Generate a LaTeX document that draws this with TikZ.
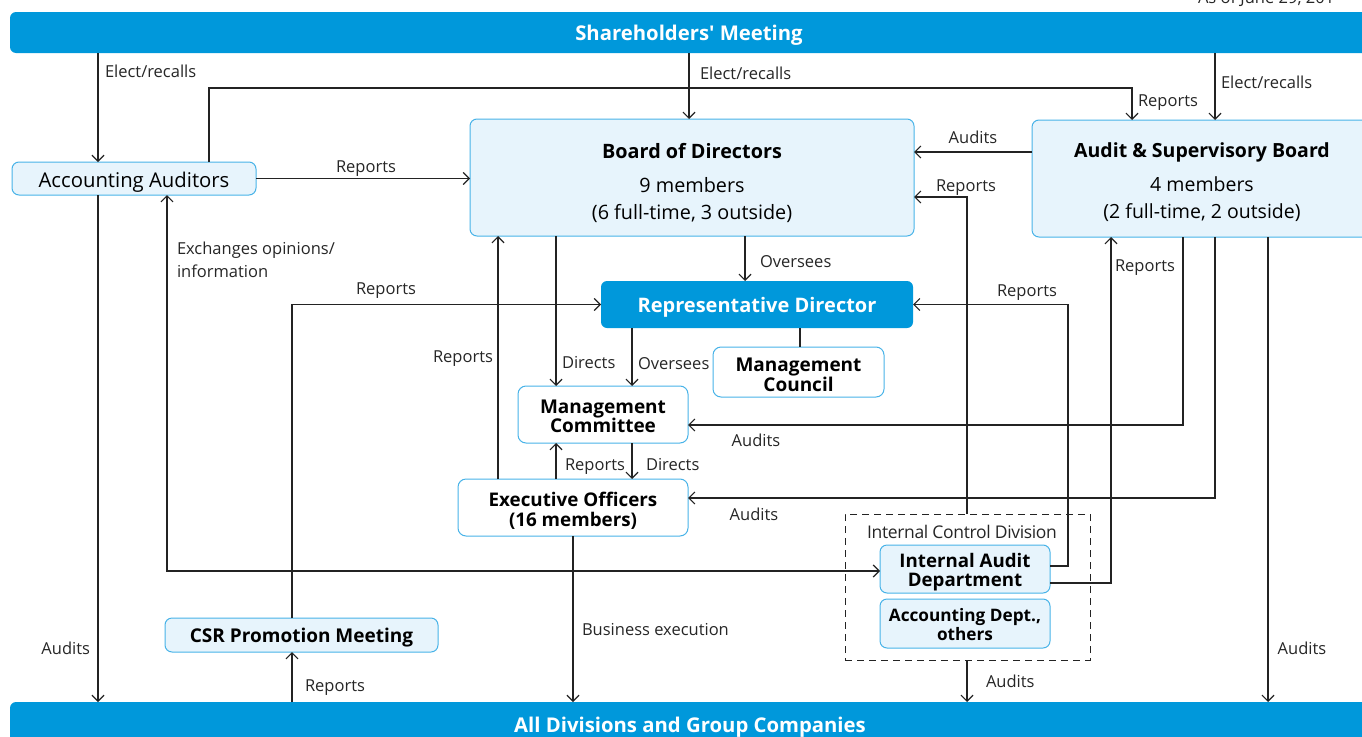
\documentclass[tikz,border=0pt]{standalone}
\usepackage{fontspec}
\setmainfont{Open Sans}
\usetikzlibrary{arrows.meta,calc}
\definecolor{mainblue}{RGB}{0,152,219}
\definecolor{lightfill}{RGB}{231,244,252}
\definecolor{boxline}{RGB}{72,179,232}
\definecolor{linecol}{RGB}{35,35,35}
\begin{document}
\begin{tikzpicture}[x=1pt,y=-1pt,
  every node/.style={inner sep=0pt, outer sep=0pt},
  bar/.style={fill=mainblue, rounded corners=6pt},
  bartext/.style={text=white, font=\fontsize{20.3}{22}\selectfont\bfseries},
  lbox/.style={draw=boxline, fill=lightfill, line width=1pt, rounded corners=7pt},
  wbox/.style={draw=boxline, fill=white, line width=1pt, rounded corners=8pt},
  btext/.style={align=center, font=\fontsize{19}{19.5}\selectfont\bfseries},
  lbl/.style={font=\fontsize{16.5}{22.5}\selectfont, text=black!85},
  conn/.style={draw=linecol, line width=1.2pt},
  arr/.style={conn, -{Straight Barb[length=6pt,width=12pt]}},
  darr/.style={conn, {Straight Barb[length=6pt,width=12pt]}-{Straight Barb[length=6pt,width=12pt]}},
]
\useasboundingbox (0,0) rectangle (1362,736);

% top note
\node[lbl, anchor=base west] (asof) at (1198,3) {As of June 29, 201};

% bars
\node[bar, minimum width=1362pt, minimum height=41pt] (sh) at (691,32.5) {};
\node[bartext] (sht) at ([yshift=-3pt]sh.center -| 689,0) {Shareholders\textquotesingle\ Meeting};
\node[bar, minimum width=1362pt, minimum height=44pt] (all) at (691,724) {};
\node[bartext] (allt) at ([yshift=-3pt]all.center -| 690,0) {All Divisions and Group Companies};

% boxes
\node[lbox, minimum width=244pt, minimum height=33pt] (aa) at (134,178.5) {};
\node[font=\fontsize{20.3}{22}\selectfont] (aat) at ([yshift=-4pt]aa.center) {Accounting Auditors};

\node[lbox, minimum width=444pt, minimum height=117pt] (bod) at (692,177.5) {};
\node[align=center, font=\fontsize{19.8}{27}\selectfont] (bodt) at ([yshift=-5pt]bod.center)
  {\textbf{Board of Directors}\\[7pt]9 members\\(6 full-time, 3 outside)};
\node[lbox, minimum width=340pt, minimum height=117pt] (asb) at (1202,178.5) {};
\node[align=center, font=\fontsize{19.5}{27}\selectfont] (asbt) at ([yshift=-4pt]asb.center)
  {\textbf{Audit \& Supervisory Board}\\[7pt]4 members\\(2 full-time, 2 outside)};

\node[fill=mainblue, rounded corners=6pt, minimum width=312pt, minimum height=47pt] (rd) at (757,304.5) {};
\node[text=white, font=\fontsize{20}{22}\selectfont\bfseries] (rdt) at ([yshift=-2.5pt]rd.center) {Representative Director};

\node[wbox, minimum width=171pt, minimum height=50pt] (mc) at (798.5,372) {};
\node[btext] (mct) at ([yshift=-3pt]mc.center) {Management\\Council};
\node[wbox, minimum width=170pt, minimum height=57pt] (mcom) at (603,414.5) {};
\node[btext] (mcomt) at ([yshift=-2pt]mcom.center) {Management\\Committee};
\node[wbox, minimum width=230pt, minimum height=57pt] (eo) at (573,507.5) {};
\node[btext, font=\fontsize{18.8}{20}\selectfont\bfseries] (eot) at ([yshift=-3pt]eo.center) {Executive Officers\\(16 members)};

\node[draw=linecol, dash pattern=on 7pt off 5pt, line width=1pt, minimum width=245pt, minimum height=146pt] (icd) at (967.5,587) {};
\node[font=\fontsize{17.5}{20}\selectfont, text=black!85] (icdl) at (962,532) {\addfontfeature{LetterSpace=-2}Internal Control Division};
\node[lbox, minimum width=170pt, minimum height=48pt] (iad) at (965,569) {};
\node[btext, font=\fontsize{18.7}{19}\selectfont\bfseries] (iadt) at ([yshift=-3.5pt]iad.center) {Internal Audit\\Department};
\node[lbox, minimum width=170pt, minimum height=49pt] (acc) at (965,623.5) {};
\node[btext, font=\fontsize{17.2}{19}\selectfont\bfseries] (acct) at ([yshift=-1pt]acc.center) {Accounting Dept.,\\others};
\node[lbox, minimum width=273pt, minimum height=34pt] (csr) at (301.5,635) {};
\node[btext] (csrt) at ([yshift=-3pt]csr.center) {CSR Promotion Meeting};

% connectors
\draw[arr] (sh.south -| 98,0) -- (aa.north -| 98,0);
\node[lbl, anchor=west] (l1) at (105,71) {Elect/recalls};
\draw[arr] (sh.south -| 689,0) -- (bod.north -| 689,0);
\node[lbl, anchor=west] (l2) at (700,73) {Elect/recalls};
\draw[arr] (sh.south -| 1215,0) -- (asb.north -| 1215,0);
\node[lbl, anchor=west] (l3) at (1221,82) {Elect/recalls};

\draw[arr] (aa.north -| 209,0) -- (209,88) -| (asb.north -| 1132,0);
\node[lbl, anchor=west] (l4) at (1138,103) {Reports};
\draw[arr] (aa.east) -- (aa.east -| bod.west);
\node[lbl] (l5) at (366,169) {Reports};
\draw[arr] (asb.west |- 0,152) -- (bod.east |- 0,152);
\node[lbl] (l6) at (973,137) {Audits};
\draw[arr] (icd.north -| 967,0) -- (967,197) -- (bod.east |- 0,197);
\node[lbl] (l7) at (966,188) {Reports};

\draw[arr] (bod.south -| 745,0) -- (rd.north -| 745,0);
\node[lbl, anchor=west] (l8) at (760,262) {Oversees};
\draw[arr] (bod.south -| 556,0) -- (mcom.north -| 556,0);
\node[lbl, anchor=west] (l9) at (562,363) {Directs};
\draw[arr] (rd.south -| 632,0) -- (mcom.north -| 632,0);
\node[lbl, anchor=west] (l10) at (638,364) {Oversees};
\draw[arr] (eo.north -| 498,0) -- (bod.south -| 498,0);
\node[lbl, anchor=east] (l11) at (493,359) {Reports};
\draw[conn] (rd.south -| 800,0) -- (mc.north -| 800,0);

\draw[arr] (csr.north -| 292,0) |- (rd.west);
\node[lbl] (l12) at (386,291) {Reports};
\draw[arr] (iad.east |- 0,566) -- (1068,566) |- (rd.east);
\node[lbl] (l13) at (1027,293) {Reports};

\draw[arr] (asb.south -| 1183,0) -- (1183,425) -- (mcom.east |- 0,425);
\node[lbl] (l14) at (756,440) {Audits};
\draw[arr] (asb.south -| 1215,0) -- (1215,498) -- (eo.east |- 0,498);
\node[lbl] (l15) at (754,514) {Audits};
\draw[arr] (iad.east |- 0,583) -- (1111,583) -- (asb.south -| 1111,0);
\node[lbl, anchor=west] (l16) at (1115,268) {Reports};
\draw[arr] (asb.south -| 1268,0) -- (all.north -| 1268,0);
\node[lbl] (l17) at (1302,648) {Audits};

\draw[arr] (eo.north -| 556,0) -- (mcom.south -| 556,0);
\node[lbl, anchor=west] (l18) at (565,467) {Reports};
\draw[arr] (mcom.south -| 632,0) -- (eo.north -| 632,0);
\node[lbl, anchor=west] (l19) at (646,465) {Directs};
\draw[arr] (eo.south -| 573,0) -- (all.north -| 573,0);
\node[lbl, anchor=west] (l20) at (582,630) {Business execution};

\draw[darr] (aa.south -| 167,0) -- (167,571) -- (iad.west |- 0,571);
\node[lbl, anchor=west, align=left] (l21) at (177,260) {Exchanges opinions/\\information};
\draw[arr] (aa.south -| 98,0) -- (all.north -| 98,0);
\node[lbl, anchor=east] (l22) at (90,648) {Audits};
\draw[arr] (all.north -| 292,0) -- (csr.south -| 292,0);
\node[lbl, anchor=west] (l23) at (305,688) {Reports};
\draw[arr] (icd.south -| 967,0) -- (all.north -| 967,0);
\node[lbl, anchor=west] (l24) at (986,681) {Audits};
\end{tikzpicture}
\end{document}
